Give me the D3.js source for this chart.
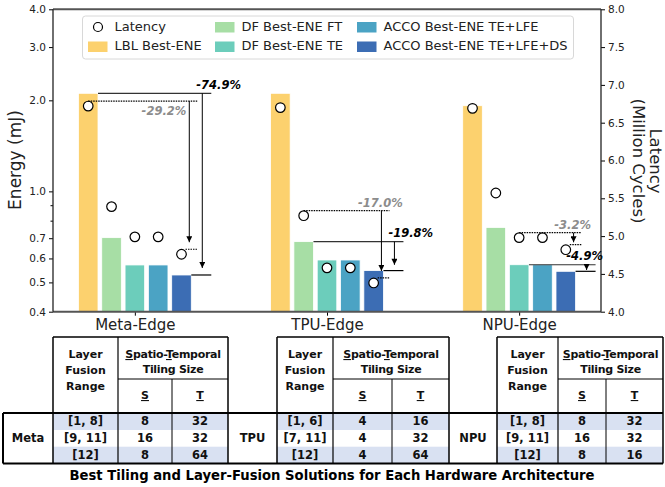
<!DOCTYPE html>
<html>
<head>
<meta charset="utf-8">
<script src="https://cdn.jsdelivr.net/npm/d3@7"></script>
<style>
  body { margin: 0; background: #fff; }
  svg { display: block; font-family: 'DejaVu Sans', sans-serif; }
</style>
</head>
<body>
<script>
const groups = ['Meta-Edge', 'TPU-Edge', 'NPU-Edge']
const series = ['LBL Best-ENE', 'DF Best-ENE FT', 'DF Best-ENE TE', 'ACCO Best-ENE TE+LFE', 'ACCO Best-ENE TE+LFE+DS']
const colors = ['#FCD16E', '#A7DEA5', '#6CCDBB', '#4BA3C4', '#3C6DB4']

// energy (mJ), one value per series
const energyMeta = [2.11, 0.703, 0.571, 0.571, 0.529]
const energyTPU = [2.11, 0.682, 0.593, 0.593, 0.547]
const energyNPU = [1.92, 0.76, 0.572, 0.572, 0.544]
// latency (million cycles)
const latencyMeta = [6.72, 5.39, 4.99, 4.99, 4.76]
const latencyTPU = [6.70, 5.27, 4.58, 4.58, 4.38]
const latencyNPU = [6.69, 5.57, 4.98, 4.98, 4.82]

const energyTicks = [0.4, 0.5, 0.6, 0.7, 0.8, 0.9, 1.0, 2.0, 3.0, 4.0]
const energyTickLabels = ['0.4', '0.5', '0.6', '0.7', '', '', '1.0', '2.0', '3.0', '4.0']
const latencyTicks = [4.0, 4.5, 5.0, 5.5, 6.0, 6.5, 7.0, 7.5, 8.0]

// reductions vs. a reference series (index), drawn down to the last series
const energyRef = [0, 1, 2]
const energyLabels = ['-74.9%', '-19.8%', '-4.9%']
const latencyRef = [0, 1, 2]
const latencyLabels = ['-29.2%', '-17.0%', '-3.2%']

// tables
const archNames = ['Meta', 'TPU', 'NPU']
const fusionRanges = [['[1, 8]', '[9, 11]', '[12]'], ['[1, 6]', '[7, 11]', '[12]'], ['[1, 8]', '[9, 11]', '[12]']]
const tileS = [[8, 16, 8], [4, 4, 4], [8, 16, 8]]
const tileT = [[32, 32, 64], [16, 32, 64], [32, 32, 16]]
const tableTitle = 'Best Tiling and Layer-Fusion Solutions for Each Hardware Architecture'

const energy = [energyMeta, energyTPU, energyNPU]
const latency = [latencyMeta, latencyTPU, latencyNPU]

const width = 665
const height = 487
const plot = { left: 53, right: 601, top: 9.3, bottom: 311.7 }

const svg = d3.select('body').append('svg')
  .attr('width', width)
  .attr('height', height)
  .attr('viewBox', [0, 0, width, height])

const x = d3.scalePoint().domain(groups).range([plot.left, plot.right]).padding(0.426)
const sub = d3.scaleBand().domain(d3.range(series.length)).range([-58.3, 58.3])
  .paddingInner(0.16).paddingOuter(0.08)
const bw = sub.bandwidth()
const yE = d3.scaleLog().domain([0.4, 4]).range([plot.bottom, plot.top])
const yL = d3.scaleLinear().domain([4, 8]).range([plot.bottom, plot.top])

// bars
const groupG = svg.append('g').selectAll('g')
  .data(groups)
  .join('g')
    .attr('transform', g => `translate(${x(g)},0)`)

groupG.selectAll('rect')
  .data((g, gi) => energy[gi].map((v, si) => ({ v, si })))
  .join('rect')
    .attr('x', d => sub(d.si))
    .attr('y', d => yE(d.v))
    .attr('width', bw)
    .attr('height', d => yE(0.4) - yE(d.v))
    .attr('fill', d => colors[d.si])
    .attr('stroke', '#fff')
    .attr('stroke-width', 0.8)

// axes
const axisText = (g, size) => g.selectAll('text')
  .attr('font-family', 'DejaVu Sans, sans-serif')
  .attr('font-size', size)
  .attr('fill', '#222')

svg.append('g')
  .attr('transform', `translate(${plot.left},0)`)
  .call(d3.axisLeft(yE).tickValues(energyTicks).tickFormat((d, i) => energyTickLabels[i]).tickSize(4).tickPadding(3))
  .call(g => g.select('.domain').remove())
  .call(g => axisText(g, 10.5))
  .call(g => g.selectAll('.tick').filter((d, i) => energyTickLabels[i] === '').select('line').attr('x2', -2.5))

svg.append('g')
  .attr('transform', `translate(${plot.right},0)`)
  .call(d3.axisRight(yL).tickValues(latencyTicks).tickFormat(d3.format('.1f')).tickSize(4).tickPadding(3))
  .call(g => g.select('.domain').remove())
  .call(g => axisText(g, 10.5))

svg.append('g')
  .attr('transform', `translate(0,${plot.bottom})`)
  .call(d3.axisBottom(x).tickSize(4).tickPadding(4))
  .call(g => g.select('.domain').remove())
  .call(g => axisText(g, 15))

// spines
svg.append('line').attr('x1', plot.left).attr('x2', plot.right).attr('y1', plot.top).attr('y2', plot.top)
  .attr('stroke', '#555').attr('stroke-width', 2)
svg.append('line').attr('x1', plot.left).attr('x2', plot.right).attr('y1', plot.bottom).attr('y2', plot.bottom)
  .attr('stroke', '#555').attr('stroke-width', 2)
svg.append('line').attr('x1', plot.left).attr('x2', plot.left).attr('y1', plot.top).attr('y2', plot.bottom)
  .attr('stroke', '#222').attr('stroke-width', 1.3)
svg.append('line').attr('x1', plot.right).attr('x2', plot.right).attr('y1', plot.top).attr('y2', plot.bottom)
  .attr('stroke', '#222').attr('stroke-width', 1.3)

// axis titles
svg.append('text')
  .attr('transform', `translate(16,160) rotate(-90)`)
  .attr('text-anchor', 'middle')
  .attr('dominant-baseline', 'middle')
  .attr('font-size', 17)
  .attr('fill', '#222')
  .text('Energy (mJ)')

const rightTitle = svg.append('g').attr('transform', 'translate(654,161) rotate(90)')
rightTitle.selectAll('text')
  .data(['Latency', '(Million Cycles)'])
  .join('text')
    .attr('y', (d, i) => i * 17)
    .attr('text-anchor', 'middle')
    .attr('dominant-baseline', 'middle')
    .attr('font-size', 16.5)
    .attr('fill', '#222')
    .text(d => d)

// annotations
const defs = svg.append('defs')
defs.append('marker')
  .attr('id', 'head')
  .attr('viewBox', '0 0 10 10')
  .attr('refX', 10)
  .attr('refY', 5)
  .attr('markerWidth', 7)
  .attr('markerHeight', 6)
  .attr('markerUnits', 'userSpaceOnUse')
  .attr('orient', 'auto')
  .append('path')
    .attr('d', 'M0,0L10,5L0,10Z')
    .attr('fill', '#000')

const latencyLabelPlace = ['below', 'above', 'above']
const ann = svg.append('g')
const hline = (x1, x2, y, stroke, dash) => ann.append('line')
  .attr('x1', x1).attr('x2', x2).attr('y1', y).attr('y2', y)
  .attr('stroke', stroke).attr('stroke-width', 1.2)
  .attr('stroke-dasharray', dash || null)
const arrow = (ax, y1, y2) => {
  const gap = Math.min(7, (y2 - y1) * 0.2)
  ann.append('line')
    .attr('x1', ax).attr('x2', ax).attr('y1', y1).attr('y2', y2 - gap)
    .attr('stroke', '#000').attr('stroke-width', 1)
    .attr('marker-end', 'url(#head)')
}

groups.forEach((g, gi) => {
  const last = series.length - 1
  const dsRight = x(g) + sub(last) + bw
  const dsCenter = x(g) + sub(last) + bw / 2

  // energy reduction
  const er = energyRef[gi]
  const ey1 = yE(energy[gi][er])
  const ey2 = yE(energy[gi][last])
  const eEnd = dsRight + 20
  const eArrow = dsRight + 11
  hline(x(g) + sub(er) + bw, eEnd, ey1, '#333')
  hline(dsRight, eEnd, ey2, '#000')
  arrow(eArrow, ey1, ey2)
  const et = ann.append('text')
    .attr('x', eArrow - 6)
    .attr('y', ey1 - 4.5)
    .attr('font-size', 11.5)
    .attr('font-weight', 'bold')
    .attr('font-style', 'italic')
    .attr('fill', '#000')
    .text(energyLabels[gi])
  const ew = et.node().getComputedTextLength()
  if (eArrow - 6 + ew > plot.right + 2) et.attr('x', plot.right + 2 - ew)

  // latency reduction
  const lr = latencyRef[gi]
  const ly1 = yL(latency[gi][lr]) - 5
  const ly2 = yL(latency[gi][last]) - 5
  const lEnd = dsRight + 6
  const lArrow = dsRight - 2
  hline(x(g) + sub(lr) + bw / 2, lEnd, ly1, '#000', '1.5 1')
  hline(dsCenter + 4, lEnd, ly2, '#000', '1.5 1')
  arrow(lArrow, ly1, ly2)
  const below = latencyLabelPlace[gi] === 'below'
  ann.append('text')
    .attr('x', below ? lArrow - 3 : lArrow - 1)
    .attr('y', below ? ly1 + 14 : ly1 - 4)
    .attr('text-anchor', below ? 'end' : 'middle')
    .attr('font-size', 11.5)
    .attr('font-weight', 'bold')
    .attr('font-style', 'italic')
    .attr('fill', '#8c8c8c')
    .text(latencyLabels[gi])
})

// latency markers
groupG.selectAll('circle')
  .data((g, gi) => latency[gi].map((v, si) => ({ v, si })))
  .join('circle')
    .attr('cx', d => sub(d.si) + bw / 2)
    .attr('cy', d => yL(d.v))
    .attr('r', 4.8)
    .attr('fill', '#fff')
    .attr('stroke', '#000')
    .attr('stroke-width', 1.2)

// legend
const legend = svg.append('g')
legend.append('rect')
  .attr('x', 82.5).attr('y', 16).attr('width', 491).attr('height', 43)
  .attr('rx', 3)
  .attr('fill', '#fff').attr('fill-opacity', 0.85)
  .attr('stroke', '#d8d8d8')
const legendItems = [{ label: 'Latency', marker: true }].concat(series.map((s, i) => ({ label: s, color: colors[i] })))
const legendColX = [88, 215, 357]
const legendRowY = [27, 46.5]
const li = legend.selectAll('g')
  .data(legendItems)
  .join('g')
    .attr('transform', (d, i) => `translate(${legendColX[Math.floor(i / 2)]},${legendRowY[i % 2]})`)
li.filter(d => d.marker).append('circle')
  .attr('cx', 10).attr('cy', 0).attr('r', 4.5)
  .attr('fill', '#fff').attr('stroke', '#000').attr('stroke-width', 1.2)
li.filter(d => !d.marker).append('rect')
  .attr('x', 0).attr('y', -5).attr('width', 19.5).attr('height', 10.5)
  .attr('fill', d => d.color)
li.append('text')
  .attr('x', 26.5)
  .attr('dominant-baseline', 'middle')
  .attr('font-size', 13)
  .attr('fill', '#222')
  .text(d => d.label)

// tables
const colEdges = [3, 53, 118, 172, 228, 277, 333, 392, 449, 497, 558, 606, 663]
const tY = { top: 337, mid: 379, head: 413, rows: [413, 430, 446.7, 463.5] }
const tbl = svg.append('g').attr('font-weight', 'bold').attr('font-size', 11).attr('fill', '#111')
const vline = (xv, y1, y2, w) => tbl.append('line')
  .attr('x1', xv).attr('x2', xv).attr('y1', y1).attr('y2', y2)
  .attr('stroke', '#000').attr('stroke-width', w)
const tText = (xv, yv, s) => tbl.append('text')
  .attr('x', xv).attr('y', yv)
  .attr('text-anchor', 'middle')
  .attr('dominant-baseline', 'middle')
  .text(s)

archNames.forEach((name, t) => {
  const [ca, cl, cs, ct, cr] = colEdges.slice(t * 4, t * 4 + 5)
  ;[0, 2].forEach(r => {
    tbl.append('rect')
      .attr('x', cl).attr('y', tY.rows[r]).attr('width', cr - cl).attr('height', tY.rows[r + 1] - tY.rows[r])
      .attr('fill', '#D9E1F2')
  })
  tbl.append('line').attr('x1', cl).attr('x2', cr).attr('y1', tY.top).attr('y2', tY.top)
    .attr('stroke', '#000').attr('stroke-width', 1.5)
  tbl.append('line').attr('x1', cs).attr('x2', cr).attr('y1', tY.mid).attr('y2', tY.mid)
    .attr('stroke', '#000').attr('stroke-width', 1)
  vline(cl, tY.top, tY.rows[3], 1.5)
  vline(cs, tY.top, tY.rows[3], 1.2)
  vline(ct, tY.mid, tY.rows[3], 1)
  vline(cr, tY.top, tY.rows[3], 1.5)

  ;['Layer', 'Fusion', 'Range'].forEach((s, i) => tText((cl + cs) / 2, 355 + i * 16, s))
  const st = tText((cs + cr) / 2, 355, null).attr('letter-spacing', -0.3)
  st.append('tspan').attr('text-decoration', 'underline').text('S')
  st.append('tspan').text('patio-')
  st.append('tspan').attr('text-decoration', 'underline').text('T')
  st.append('tspan').text('emporal')
  tText((cs + cr) / 2, 370, 'Tiling Size').attr('letter-spacing', -0.3)
  tText((cs + ct) / 2, 396, 'S').attr('text-decoration', 'underline')
  tText((ct + cr) / 2, 396, 'T').attr('text-decoration', 'underline')

  tText((ca + cl) / 2, (tY.rows[0] + tY.rows[3]) / 2, name).attr('font-size', 11.5)
  fusionRanges[t].forEach((s, r) => {
    const cy = (tY.rows[r] + tY.rows[r + 1]) / 2
    tText((cl + cs) / 2, cy, s).attr('font-size', 11.5)
    tText((cs + ct) / 2, cy, tileS[t][r]).attr('font-size', 11.5)
    tText((ct + cr) / 2, cy, tileT[t][r]).attr('font-size', 11.5)
  })
})
;[tY.head, tY.rows[3]].forEach(yv => {
  tbl.append('line').attr('x1', colEdges[0]).attr('x2', colEdges[colEdges.length - 1]).attr('y1', yv).attr('y2', yv)
    .attr('stroke', '#000').attr('stroke-width', 2)
})
vline(colEdges[0], tY.head, tY.rows[3], 2)

svg.append('text')
  .attr('x', 332)
  .attr('y', 476)
  .attr('text-anchor', 'middle')
  .attr('dominant-baseline', 'middle')
  .attr('font-size', 13.2)
  .attr('font-weight', 'bold')
  .attr('fill', '#000')
  .text(tableTitle)
</script>
</body>
</html>
